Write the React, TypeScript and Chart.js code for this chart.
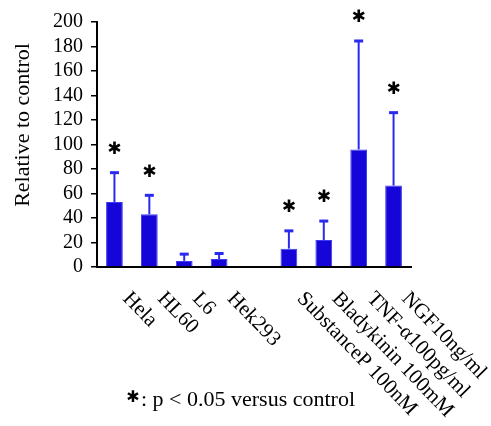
import React, { useEffect, useRef } from 'react';
import { Chart, registerables } from 'chart.js';

Chart.register(...registerables);

const categories = ['Hela', 'HL60', 'L6', 'Hek293', '', 'SubstanceP 100nM', 'Bladykinin 100mM', 'TNF-α100pg/ml', 'NGF10ng/ml'];
const means = [53, 43, 5, 6.5, null, 15, 22, 96, 66.5];
const errorTops = [77, 58.5, 10.5, 11, null, 29.5, 37.5, 184.5, 126];
const significant = [true, true, false, false, false, true, true, true, true];
const yMin = 0;
const yMax = 200;
const yStep = 20;
const yTitle = 'Relative to control';
const starSymbol = '✱';
const legendText = ': p < 0.05 versus control';

const SERIF = '"Liberation Serif", "Times New Roman", serif';
const BAR_FILL = '#1505d8';
const BAR_EDGE = '#3a3af2';

const overlayPlugin = {
  id: 'overlay',
  afterDatasetsDraw(chart: any) {
    const ctx = chart.ctx;
    const meta = chart.getDatasetMeta(0);
    const y = chart.scales.y;
    ctx.save();
    for (let i = 0; i < categories.length; i++) {
      if (means[i] == null || errorTops[i] == null) continue;
      const el = meta.data[i];
      const x = el.x;
      const yb = y.getPixelForValue(means[i] as number);
      const yt = y.getPixelForValue(errorTops[i] as number);
      ctx.strokeStyle = '#2a2aee';
      ctx.lineWidth = 2;
      ctx.beginPath();
      ctx.moveTo(x, yb);
      ctx.lineTo(x, yt);
      ctx.stroke();
      ctx.lineWidth = 3;
      ctx.beginPath();
      ctx.moveTo(x - 4.5, yt);
      ctx.lineTo(x + 4.5, yt);
      ctx.stroke();
      if (significant[i]) {
        ctx.fillStyle = '#000';
        ctx.font = 'bold 17px "DejaVu Sans"';
        ctx.textAlign = 'center';
        ctx.textBaseline = 'middle';
        ctx.fillText(starSymbol, x, yt - 23);
      }
    }
    ctx.restore();
  },
  afterDraw(chart: any) {
    const ctx = chart.ctx;
    const xs = chart.scales.x;
    ctx.save();
    ctx.fillStyle = '#000';
    ctx.font = '21px ' + SERIF;
    ctx.textAlign = 'left';
    ctx.textBaseline = 'top';
    const ang = (46 * Math.PI) / 180;
    for (let i = 0; i < categories.length; i++) {
      if (!categories[i]) continue;
      const cx = xs.getPixelForValue(i);
      ctx.save();
      ctx.translate(cx + 19, 288);
      ctx.rotate(ang);
      ctx.fillText(categories[i], 0, 0);
      ctx.restore();
    }
    ctx.save();
    ctx.font = '22px ' + SERIF;
    ctx.translate(23, 125);
    ctx.rotate(-Math.PI / 2);
    ctx.textAlign = 'center';
    ctx.textBaseline = 'middle';
    ctx.fillText(yTitle, 0, 0);
    ctx.restore();
    ctx.font = 'bold 16px "DejaVu Sans"';
    ctx.textAlign = 'center';
    ctx.textBaseline = 'middle';
    ctx.fillText(starSymbol, 133, 398);
    ctx.font = '22px ' + SERIF;
    ctx.textAlign = 'left';
    ctx.textBaseline = 'alphabetic';
    ctx.fillText(legendText, 141, 406);
    ctx.restore();
  },
};

export default function App() {
  const ref = useRef<HTMLCanvasElement | null>(null);
  useEffect(() => {
    if (!ref.current) return;
    const ticks: number[] = [];
    for (let v = yMin; v <= yMax; v += yStep) ticks.push(v);
    const chart = new Chart(ref.current, {
      type: 'bar',
      data: {
        labels: categories,
        datasets: [
          {
            data: means as any,
            backgroundColor: BAR_FILL,
            borderColor: BAR_EDGE,
            borderWidth: 1,
            barPercentage: 0.48,
            categoryPercentage: 1,
          },
        ],
      },
      options: {
        animation: false,
        responsive: false,
        devicePixelRatio: 1,
        layout: { padding: { left: 0, top: 22, right: 80, bottom: 0 } },
        plugins: { legend: { display: false }, tooltip: { enabled: false } },
        scales: {
          x: {
            grid: { display: false, drawTicks: false },
            border: { display: true, color: '#000', width: 2 },
            ticks: { display: false },
            afterFit: (s: any) => {
              s.height = 426 - 267;
            },
          },
          y: {
            min: yMin,
            max: yMax,
            afterBuildTicks: (s: any) => {
              s.ticks = ticks.map((v) => ({ value: v }));
            },
            grid: { drawOnChartArea: false, drawTicks: true, tickLength: 6, color: '#000', lineWidth: 1.5 },
            border: { display: true, color: '#000', width: 2 },
            ticks: {
              color: '#000',
              font: { family: SERIF, size: 20 },
              padding: 8,
              autoSkip: false,
            },
            afterFit: (s: any) => {
              s.width = 97;
            },
          },
        },
      },
      plugins: [overlayPlugin],
    });
    return () => chart.destroy();
  }, []);
  return (
    <div style={{ position: 'fixed', left: 0, top: 0, width: 491, height: 426, background: '#fff' }}>
      <canvas ref={ref} width={491} height={426} style={{ width: 491, height: 426 }} />
    </div>
  );
}
